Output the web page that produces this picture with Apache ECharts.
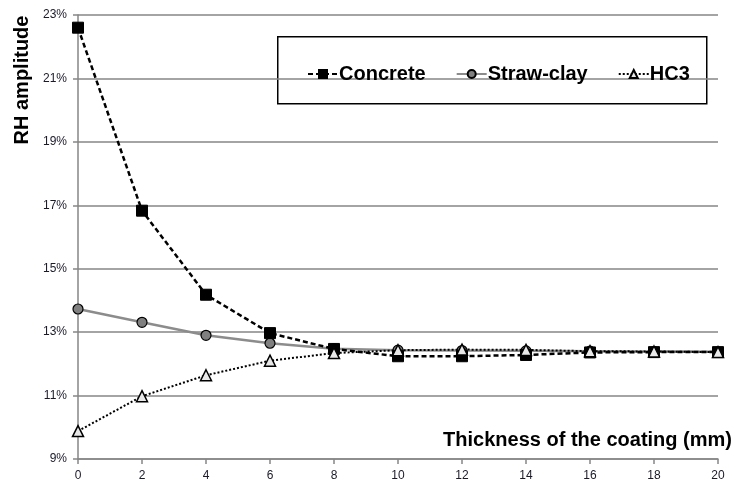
<!DOCTYPE html>
<html>
<head>
<meta charset="utf-8">
<script src="https://cdn.jsdelivr.net/npm/echarts@6/dist/echarts.min.js"></script>
<style>html,body{margin:0;padding:0;background:#fff}#c{width:733px;height:486px}</style>
</head>
<body>
<div id="c"></div>
<script>
const thickness = [0, 2, 4, 6, 8, 10, 12, 14, 16, 18, 20];
const concrete = [22.6, 16.83, 14.18, 12.97, 12.47, 12.24, 12.24, 12.28, 12.36, 12.37, 12.37];
const strawClay = [13.73, 13.31, 12.9, 12.65, 12.48, 12.43, 12.42, 12.41, 12.4, 12.39, 12.38];
const hc3 = [9.88, 10.98, 11.64, 12.1, 12.34, 12.43, 12.45, 12.44, 12.4, 12.39, 12.37];
const seriesNames = ['Concrete', 'Straw-clay', 'HC3'];
const yTitle = 'RH amplitude';
const xTitle = 'Thickness of the coating (mm)';

const pair = arr => thickness.map((x, i) => [x, arr[i]]);
const FONT = '"Liberation Sans", Arial, sans-serif';
const chart = echarts.init(document.getElementById('c'), null, {renderer: 'canvas'});
chart.setOption({
  animation: false,
  backgroundColor: '#fff',
  grid: {left: 78, right: 15, top: 15, bottom: 27, containLabel: false},
  xAxis: {
    type: 'value', min: 0, max: 20, interval: 2,
    axisLine: {show: true, lineStyle: {color: '#868686', width: 1.5}},
    axisTick: {show: true, length: 5, lineStyle: {color: '#868686', width: 1.5}},
    axisLabel: {color: '#1a1a2a', fontSize: 12, fontFamily: FONT, margin: 11},
    splitLine: {show: false}
  },
  yAxis: {
    type: 'value', min: 9, max: 23, interval: 2,
    axisLine: {show: true, lineStyle: {color: '#868686', width: 1.5}},
    axisTick: {show: true, length: 5, lineStyle: {color: '#868686', width: 1.5}},
    axisLabel: {color: '#1a1a2a', fontSize: 12, fontFamily: FONT, margin: 11, formatter: v => v + '%'},
    splitLine: {show: true, lineStyle: {color: '#868686', width: 1.5}}
  },
  legend: {
    left: 302, top: 59, itemWidth: 30, itemHeight: 10, itemGap: 30,
    textStyle: {fontSize: 20, fontWeight: 'bold', fontFamily: FONT, color: '#000', padding: [0,0,0,-4]},
    data: seriesNames
  },
  graphic: [
    {type: 'rect', left: 277, top: 36, shape: {width: 429, height: 67}, style: {fill: '#fff', stroke: '#000', lineWidth: 1.5}, z: 0},
    {type: 'text', x: 22, y: 80, rotation: Math.PI / 2, style: {text: yTitle, font: 'bold 20px ' + FONT, fill: '#000', align: 'center', verticalAlign: 'middle'}},
    {type: 'text', x: 732, y: 440, style: {text: xTitle, font: 'bold 20px ' + FONT, fill: '#000', align: 'right', verticalAlign: 'middle'}}
  ],
  series: [
    {name: seriesNames[0], type: 'line', data: pair(concrete), symbol: 'rect', symbolSize: 11,
     lineStyle: {color: '#000', width: 2.5, type: [5, 3]}, itemStyle: {color: '#000', borderColor: '#000', borderWidth: 1}, z: 3},
    {name: seriesNames[1], type: 'line', data: pair(strawClay), symbol: 'circle', symbolSize: 10,
     lineStyle: {color: '#8c8c8c', width: 2.5, type: 'solid'}, itemStyle: {color: '#808080', borderColor: '#000', borderWidth: 1.2}, z: 2},
    {name: seriesNames[2], type: 'line', data: pair(hc3), symbol: 'triangle', symbolSize: 11,
     lineStyle: {color: '#000', width: 2, type: [2, 2]}, itemStyle: {color: '#e8e8e8', borderColor: '#000', borderWidth: 1.5}, z: 4}
  ]
});
</script>
</body>
</html>
